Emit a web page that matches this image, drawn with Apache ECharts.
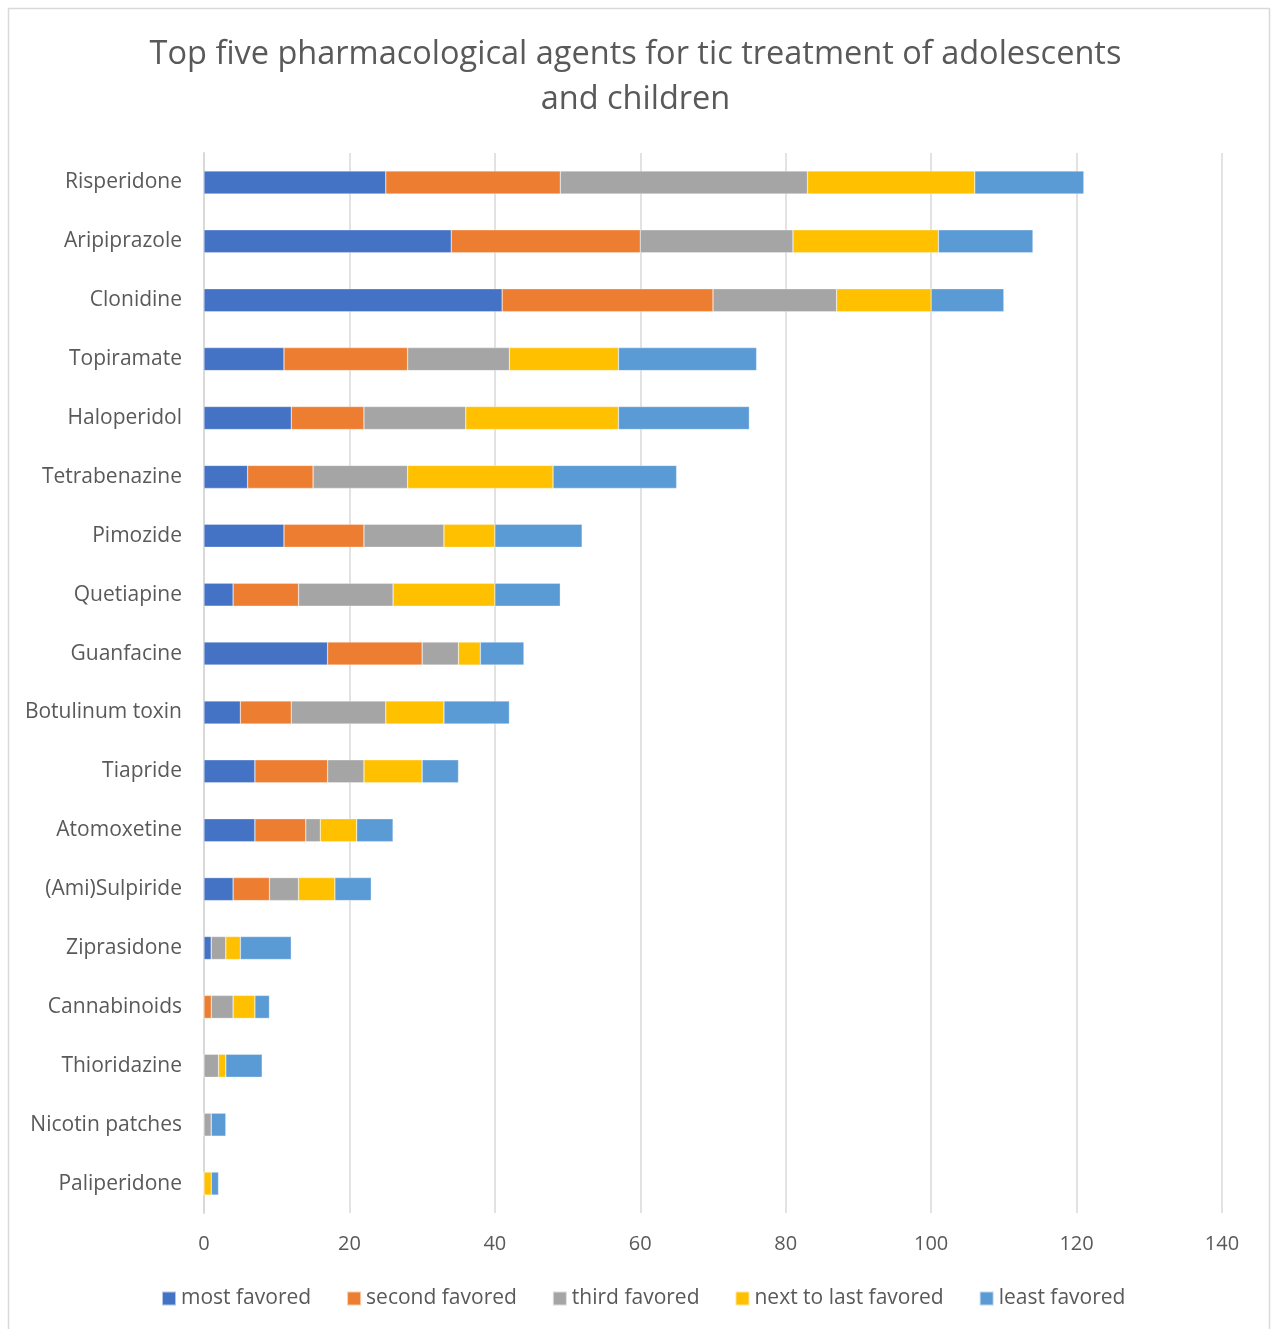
<!DOCTYPE html>
<html>
<head>
<meta charset="utf-8">
<script src="https://cdn.jsdelivr.net/npm/echarts@6/dist/echarts.min.js"></script>
<style>
  html, body { margin: 0; padding: 0; background: #fff; }
  #chart { width: 1271px; height: 1329px; }
</style>
</head>
<body>
<div id="chart"></div>
<script>
// Agents, ordered top to bottom
const agents = [
  'Risperidone', 'Aripiprazole', 'Clonidine', 'Topiramate', 'Haloperidol',
  'Tetrabenazine', 'Pimozide', 'Quetiapine', 'Guanfacine', 'Botulinum toxin',
  'Tiapride', 'Atomoxetine', '(Ami)Sulpiride', 'Ziprasidone', 'Cannabinoids',
  'Thioridazine', 'Nicotin patches', 'Paliperidone'
];

// Number of votes per ranking position
const mostFavored      = [25, 34, 41, 11, 12, 6, 11, 4, 17, 5, 7, 7, 4, 1, 0, 0, 0, 0];
const secondFavored    = [24, 26, 29, 17, 10, 9, 11, 9, 13, 7, 10, 7, 5, 0, 1, 0, 0, 0];
const thirdFavored     = [34, 21, 17, 14, 14, 13, 11, 13, 5, 13, 5, 2, 4, 2, 3, 2, 1, 0];
const nextToLastFavored= [23, 20, 13, 15, 21, 20, 7, 14, 3, 8, 8, 5, 5, 2, 3, 1, 0, 1];
const leastFavored     = [15, 13, 10, 19, 18, 17, 12, 9, 6, 9, 5, 5, 5, 7, 2, 5, 2, 1];

const seriesNames = ['most favored', 'second favored', 'third favored', 'next to last favored', 'least favored'];
const seriesData = [mostFavored, secondFavored, thirdFavored, nextToLastFavored, leastFavored];
const colors = ['#4472C4', '#ED7D31', '#A5A5A5', '#FFC000', '#5B9BD5'];

const font = '"Open Sans", "Noto Sans", sans-serif';
const chart = echarts.init(document.getElementById('chart'), null, { renderer: 'canvas' });

chart.setOption({
  backgroundColor: '#fff',
  animation: false,
  color: colors,
  title: {
    text: 'Top five pharmacological agents for tic treatment of adolescents\nand children',
    left: 'center',
    top: 27,
    textStyle: {
      fontFamily: font,
      fontSize: 32.5,
      fontWeight: 'normal',
      color: '#595959',
      lineHeight: 45
    }
  },
  legend: {
    bottom: 15,
    left: 156,
    itemWidth: 14,
    itemHeight: 14,
    itemGap: 35,
    icon: 'rect',
    textStyle: { fontFamily: font, fontSize: 21, color: '#595959' },
    data: seriesNames
  },
  grid: { left: 204, right: 49, top: 153, bottom: 116, containLabel: false },
  xAxis: {
    type: 'value',
    min: 0,
    max: 140,
    interval: 20,
    axisLine: { show: false },
    axisTick: { show: false },
    axisLabel: { fontFamily: font, fontSize: 20, color: '#595959', margin: 21 },
    splitLine: { show: true, lineStyle: { color: '#D9D9D9', width: 1.5 } }
  },
  yAxis: {
    type: 'category',
    inverse: true,
    data: agents,
    axisLine: { show: true, lineStyle: { color: '#D9D9D9', width: 2 } },
    axisTick: { show: false },
    axisLabel: { fontFamily: font, fontSize: 21, color: '#595959', margin: 22 }
  },
  series: seriesNames.map((name, i) => ({
    name: name,
    type: 'bar',
    stack: 'total',
    barWidth: 23,
    data: seriesData[i],
    itemStyle: { color: colors[i], borderColor: 'rgba(255,255,255,0.6)', borderWidth: 0.5 }
  })),
  graphic: [{
    type: 'rect',
    shape: { x: 8.5, y: 8.5, width: 1261, height: 1330 },
    style: { fill: 'none', stroke: '#D9D9D9', lineWidth: 1.5 },
    silent: true
  }]
});
</script>
</body>
</html>
